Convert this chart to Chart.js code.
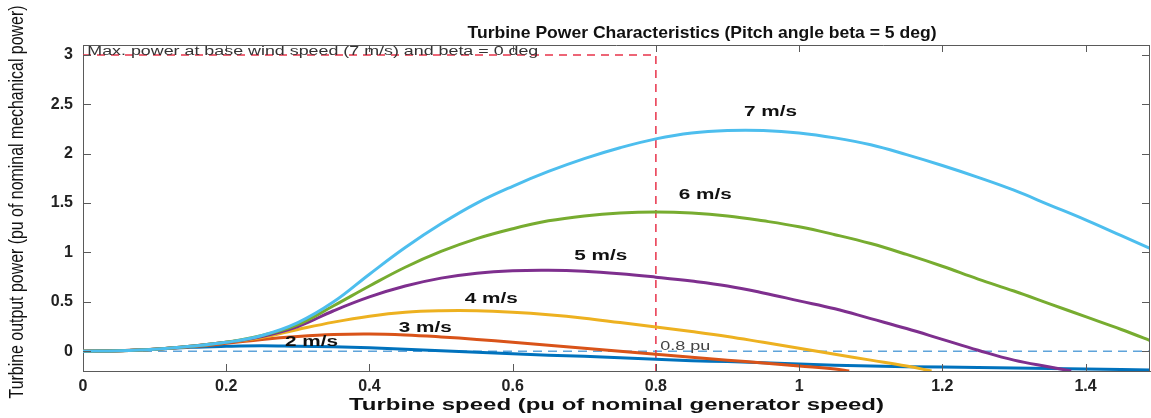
<!DOCTYPE html>
<html>
<head>
<meta charset="utf-8">
<script src="https://cdn.jsdelivr.net/npm/chart.js@4.4.1/dist/chart.umd.min.js"></script>
<style>
  html, body { margin: 0; padding: 0; background: #fff; }
  #wrap { width: 1151px; height: 418px; position: relative; }
</style>
</head>
<body>
<div id="wrap"><canvas id="chart"></canvas></div>
<script>
// turbine speed (pu) and output power (pu), one list per wind speed
const x7 = [0, 0.05, 0.1, 0.15, 0.2, 0.25, 0.3, 0.35, 0.4, 0.45, 0.5, 0.55, 0.6, 0.65, 0.7, 0.75, 0.8, 0.85, 0.9, 0.95, 1.0, 1.05, 1.1, 1.15, 1.2, 1.25, 1.3, 1.35, 1.4, 1.45, 1.5];
const p7 = [0, 0.005, 0.02, 0.05, 0.09, 0.16, 0.29, 0.50, 0.78, 1.05, 1.29, 1.50, 1.67, 1.82, 1.95, 2.06, 2.15, 2.21, 2.235, 2.235, 2.21, 2.16, 2.09, 1.99, 1.88, 1.76, 1.63, 1.48, 1.33, 1.17, 1.01];

const x6 = [0, 0.05, 0.1, 0.15, 0.2, 0.25, 0.3, 0.35, 0.4, 0.45, 0.5, 0.55, 0.6, 0.65, 0.7, 0.75, 0.8, 0.85, 0.9, 0.95, 1.0, 1.05, 1.1, 1.15, 1.2, 1.25, 1.3, 1.35, 1.4, 1.45, 1.5];
const p6 = [0, 0.005, 0.02, 0.05, 0.09, 0.16, 0.27, 0.46, 0.66, 0.85, 1.01, 1.14, 1.24, 1.32, 1.37, 1.40, 1.41, 1.40, 1.37, 1.32, 1.26, 1.18, 1.09, 0.98, 0.86, 0.73, 0.61, 0.48, 0.35, 0.22, 0.08];

const x5 = [0, 0.05, 0.1, 0.15, 0.2, 0.25, 0.3, 0.35, 0.4, 0.45, 0.5, 0.55, 0.6, 0.65, 0.7, 0.75, 0.8, 0.85, 0.9, 0.95, 1.0, 1.05, 1.1, 1.15, 1.2, 1.25, 1.3, 1.35, 1.38];
const p5 = [0, 0.005, 0.02, 0.05, 0.09, 0.15, 0.25, 0.41, 0.55, 0.66, 0.74, 0.79, 0.815, 0.82, 0.81, 0.785, 0.75, 0.71, 0.66, 0.59, 0.51, 0.43, 0.33, 0.23, 0.12, 0.01, -0.09, -0.16, -0.2];

const x4 = [0, 0.05, 0.1, 0.15, 0.2, 0.25, 0.3, 0.35, 0.4, 0.45, 0.5, 0.55, 0.6, 0.65, 0.7, 0.75, 0.8, 0.85, 0.9, 0.95, 1.0, 1.05, 1.1, 1.15, 1.185];
const p4 = [0, 0.005, 0.02, 0.05, 0.09, 0.14, 0.22, 0.295, 0.355, 0.395, 0.41, 0.41, 0.395, 0.37, 0.335, 0.29, 0.245, 0.20, 0.15, 0.09, 0.03, -0.03, -0.09, -0.15, -0.2];

const x3 = [0, 0.05, 0.1, 0.15, 0.2, 0.25, 0.3, 0.35, 0.4, 0.45, 0.5, 0.55, 0.6, 0.65, 0.7, 0.75, 0.8, 0.85, 0.9, 0.95, 1.0, 1.05, 1.07];
const p3 = [0, 0.005, 0.02, 0.045, 0.08, 0.12, 0.15, 0.17, 0.175, 0.165, 0.145, 0.12, 0.09, 0.06, 0.03, 0.0, -0.03, -0.06, -0.09, -0.12, -0.15, -0.18, -0.2];

const x2 = [0, 0.05, 0.1, 0.15, 0.2, 0.25, 0.3, 0.35, 0.4, 0.45, 0.5, 0.55, 0.6, 0.65, 0.7, 0.75, 0.8, 0.85, 0.9, 1.0, 1.1, 1.2, 1.3, 1.4, 1.5];
const p2 = [0, 0.005, 0.02, 0.04, 0.05, 0.055, 0.05, 0.045, 0.035, 0.02, 0.005, -0.01, -0.025, -0.04, -0.05, -0.065, -0.08, -0.095, -0.105, -0.13, -0.15, -0.16, -0.17, -0.18, -0.19];

// reference lines
const maxPowerX = [0, 0.8, 0.8];
const maxPowerY = [3, 3, -0.2];
const puLineX = [0, 1.5];
const puLineY = [0, 0];

// curve labels: text and where they sit (data units, centre)
const labelText = ['7 m/s', '6 m/s', '5 m/s', '4 m/s', '3 m/s', '2 m/s'];
const labelX = [0.96, 0.869, 0.723, 0.57, 0.478, 0.319];
const labelY = [2.42, 1.58, 0.97, 0.53, 0.24, 0.10];

const xTicks = [0, 0.2, 0.4, 0.6, 0.8, 1, 1.2, 1.4];
const yTicks = [0, 0.5, 1, 1.5, 2, 2.5, 3];

const FONT = "'Liberation Sans', Arial, sans-serif";
const AXIS = '#5a5a5a';

const pts = (xs, ys) => xs.map((x, i) => ({ x: x, y: ys[i] }));

function curve(label, xs, ys, color) {
    return {
        label: label,
        data: pts(xs, ys),
        borderColor: color,
        borderWidth: 3,
        pointRadius: 0,
        tension: 0.4,
        fill: false
    };
}

// the picture is stretched sideways, so text is fitted to the width it has there
function fitText(ctx, text, cx, cy, font, width, color, align, sy) {
    ctx.save();
    ctx.font = font;
    ctx.fillStyle = color;
    ctx.textBaseline = 'middle';
    const w = ctx.measureText(text).width;
    ctx.translate(cx, cy);
    ctx.scale(width / w, sy || 1);
    ctx.textAlign = align || 'center';
    ctx.fillText(text, 0, 0);
    ctx.restore();
}

const decorations = {
    id: 'decorations',
    afterDatasetsDraw(chart) {
        const ctx = chart.ctx;
        const xs = chart.scales.x;
        const ys = chart.scales.y;
        const a = chart.chartArea;

        // box: top and right edges
        ctx.save();
        ctx.strokeStyle = AXIS;
        ctx.lineWidth = 1;
        ctx.beginPath();
        ctx.moveTo(a.left, a.top + 0.5);
        ctx.lineTo(a.right, a.top + 0.5);
        ctx.moveTo(a.right - 0.5, a.top);
        ctx.lineTo(a.right - 0.5, a.bottom);
        ctx.stroke();

        // inward tick marks on all four sides
        ctx.beginPath();
        xTicks.forEach(v => {
            const px = Math.round(xs.getPixelForValue(v)) + 0.5;
            ctx.moveTo(px, a.bottom);
            ctx.lineTo(px, a.bottom - 7);
            ctx.moveTo(px, a.top);
            ctx.lineTo(px, a.top + 7);
        });
        yTicks.forEach(v => {
            const py = Math.round(ys.getPixelForValue(v)) + 0.5;
            ctx.moveTo(a.left, py);
            ctx.lineTo(a.left + 8, py);
            ctx.moveTo(a.right, py);
            ctx.lineTo(a.right - 8, py);
        });
        ctx.stroke();
        ctx.restore();

        // curve labels
        labelText.forEach((t, i) => {
            fitText(ctx, t, xs.getPixelForValue(labelX[i]), ys.getPixelForValue(labelY[i]),
                'bold 15px ' + FONT, 53, '#111');
        });

        // annotations
        fitText(ctx, 'Max. power at base wind speed (7 m/s) and beta = 0 deg',
            xs.getPixelForValue(0.006), ys.getPixelForValue(3.03), '12px ' + FONT, 451, '#333', 'left');
        fitText(ctx, '0.8 pu', xs.getPixelForValue(0.806), ys.getPixelForValue(0.05),
            '12px ' + FONT, 50, '#444', 'left');

        // titles
        fitText(ctx, 'Turbine Power Characteristics (Pitch angle beta = 5 deg)', 702, 33,
            'bold 17px ' + FONT, 469, '#111');
        fitText(ctx, 'Turbine speed (pu of nominal generator speed)', (a.left + a.right) / 2, 405,
            'bold 17px ' + FONT, 535, '#111');

        ctx.save();
        ctx.translate(17, 202);
        ctx.rotate(-Math.PI / 2);
        fitText(ctx, 'Turbine output power (pu of nominal mechanical power)', 0, 0,
            '16px ' + FONT, 393, '#111', 'center', 1.3);
        ctx.restore();
    }
};

new Chart(document.getElementById('chart'), {
    type: 'line',
    data: {
        datasets: [
            curve('7 m/s', x7, p7, '#4DBEEE'),
            curve('6 m/s', x6, p6, '#77AC30'),
            curve('5 m/s', x5, p5, '#7E2F8E'),
            curve('4 m/s', x4, p4, '#EDB120'),
            curve('3 m/s', x3, p3, '#D95319'),
            curve('2 m/s', x2, p2, '#0072BD'),
            {
                label: 'Max power',
                data: pts(maxPowerX, maxPowerY),
                borderColor: '#E8334A',
                borderWidth: 1.5,
                borderDash: [8, 6],
                pointRadius: 0,
                tension: 0
            },
            {
                label: '0.8 pu',
                data: pts(puLineX, puLineY),
                borderColor: '#5FA3DA',
                borderWidth: 1.3,
                borderDash: [9, 6],
                pointRadius: 0,
                tension: 0,
                order: 10
            }
        ]
    },
    options: {
        responsive: true,
        maintainAspectRatio: false,
        animation: false,
        layout: { padding: { top: 45, right: 1, left: 0, bottom: 0 } },
        plugins: {
            legend: { display: false },
            title: { display: false },
            tooltip: { enabled: false }
        },
        scales: {
            x: {
                type: 'linear',
                min: 0,
                max: 1.49,
                afterBuildTicks: scale => { scale.ticks = xTicks.map(v => ({ value: v })); },
                afterFit: scale => { scale.height = 47; },
                grid: { display: false, drawTicks: false },
                border: { display: true, color: AXIS, width: 1 },
                ticks: {
                    padding: 6,
                    maxRotation: 0,
                    color: '#222',
                    font: { family: FONT, size: 16, weight: 'bold' },
                    callback: v => String(v)
                }
            },
            y: {
                type: 'linear',
                min: -0.2,
                max: 3.1,
                afterBuildTicks: scale => { scale.ticks = yTicks.map(v => ({ value: v })); },
                afterFit: scale => { scale.width = 83; },
                grid: { display: false, drawTicks: false },
                border: { display: true, color: AXIS, width: 1 },
                ticks: {
                    padding: 10,
                    color: '#222',
                    font: { family: FONT, size: 16, weight: 'bold' },
                    callback: v => String(v)
                }
            }
        }
    },
    plugins: [decorations]
});
</script>
</body>
</html>
